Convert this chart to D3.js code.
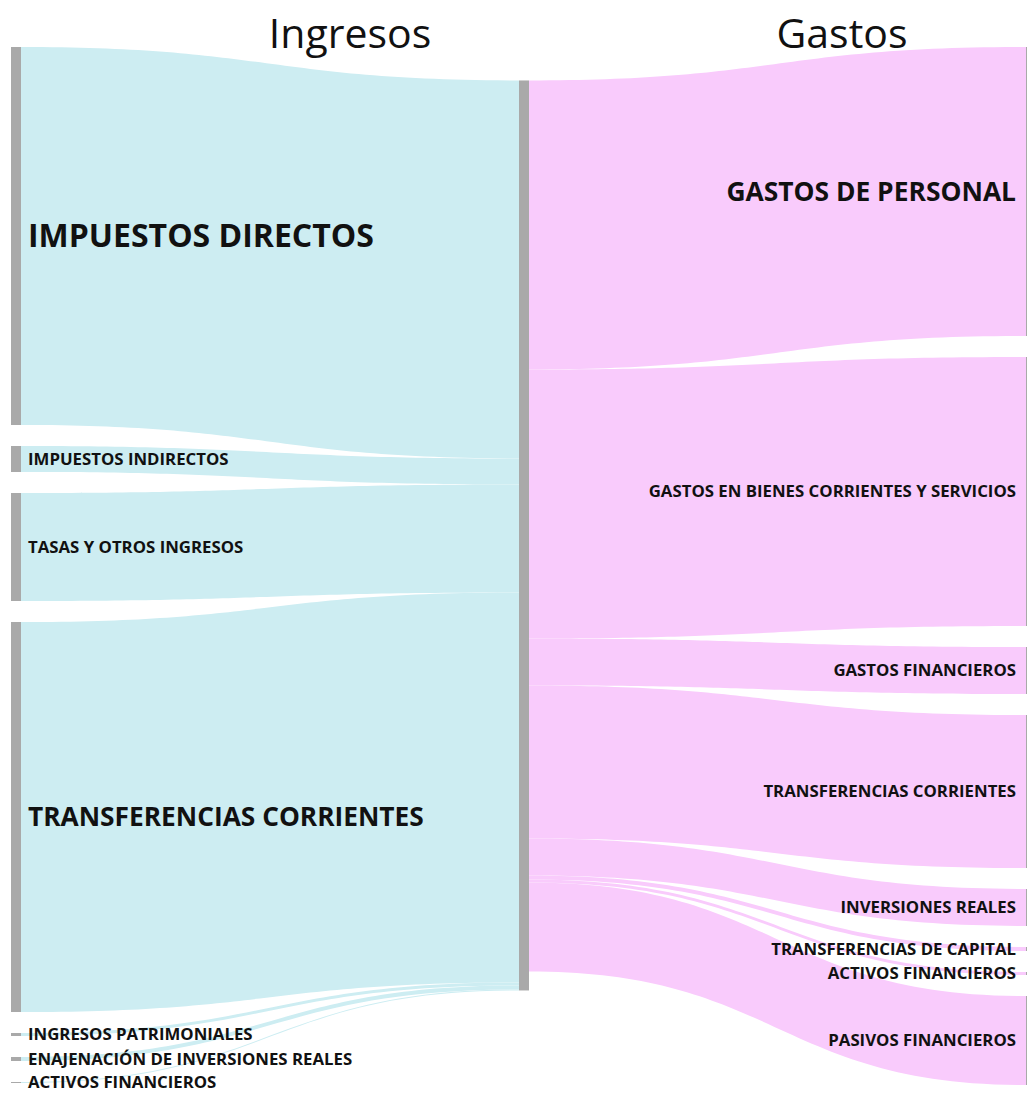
<!DOCTYPE html>
<html><head><meta charset="utf-8">
<script src="https://cdn.jsdelivr.net/npm/d3@7"></script>
<style>
body{margin:0;background:#fff;}
svg{display:block;}
text{font-family:"Open Sans",sans-serif;}
</style>
</head><body>
<svg id="chart" width="1027" height="1093"></svg>
<script>
// ---- data ----
const incomeCategories = ["IMPUESTOS DIRECTOS","IMPUESTOS INDIRECTOS","TASAS Y OTROS INGRESOS","TRANSFERENCIAS CORRIENTES","INGRESOS PATRIMONIALES","ENAJENACIÓN DE INVERSIONES REALES","ACTIVOS FINANCIEROS"];
const incomeValues = [37.8, 2.6, 10.8, 39.0, 0.3, 0.4, 0.1];
const expenseCategories = ["GASTOS DE PERSONAL","GASTOS EN BIENES CORRIENTES Y SERVICIOS","GASTOS FINANCIEROS","TRANSFERENCIAS CORRIENTES","INVERSIONES REALES","TRANSFERENCIAS DE CAPITAL","ACTIVOS FINANCIEROS","PASIVOS FINANCIEROS"];
const expenseValues = [28.9, 26.9, 4.7, 15.3, 3.7, 0.4, 0.3, 8.9];
const columnTitles = ["Ingresos","Gastos"];

// ---- layout / style ----
const W = 1027, H = 1093;
const top0 = 47, bottom0 = 1085, pad = 21, nodeW = 10;
const xLeft = 11, xMid = 519, xRight = 1026;
const blue = "#cdedf2", pink = "#f9cbfc", nodeGray = "#a9a9a9";
const smallLabelSize = 16.8;
const bigLabelSize = {"IMPUESTOS DIRECTOS": 32, "TRANSFERENCIAS CORRIENTES": 26.3, "GASTOS DE PERSONAL": 26.4};

const sumIn = d3.sum(incomeValues), sumOut = d3.sum(expenseValues);
const ky = Math.min(
  (bottom0 - top0 - (incomeValues.length - 1) * pad) / sumIn,
  (bottom0 - top0 - (expenseValues.length - 1) * pad) / sumOut);
const h = d3.scaleLinear().domain([0, 1]).range([0, ky]);

function stack(names, values) {
  let y = top0;
  return names.map((name, i) => {
    const n = {name, value: values[i], y0: y, y1: y + h(values[i])};
    y = n.y1 + pad;
    return n;
  });
}
const leftNodes = stack(incomeCategories, incomeValues);
const rightNodes = stack(expenseCategories, expenseValues);
const midCenter = d3.sum(leftNodes, n => n.value * (n.y0 + n.y1) / 2) / sumIn;
const midH = h(Math.max(sumIn, sumOut));
const mid = {y0: midCenter - midH / 2, y1: midCenter + midH / 2};

function band(xa, a0, a1, xb, b0, b1) {
  const xm = (xa + xb) / 2, p = d3.path();
  p.moveTo(xa, a0);
  p.bezierCurveTo(xm, a0, xm, b0, xb, b0);
  p.lineTo(xb, b1);
  p.bezierCurveTo(xm, b1, xm, a1, xa, a1);
  p.closePath();
  return p.toString();
}

const svg = d3.select("#chart");

// links
let acc = mid.y0;
const inLinks = leftNodes.map(n => {
  const t0 = acc; acc += h(n.value);
  return band(xLeft + nodeW, n.y0, n.y1, xMid, t0, acc);
});
let acc2 = mid.y0;
const outLinks = rightNodes.map(n => {
  const s0 = acc2; acc2 += h(n.value);
  return band(xMid + nodeW, s0, acc2, xRight, n.y0, n.y1);
});
svg.append("g").selectAll("path").data(inLinks).join("path").attr("d", d => d).attr("fill", blue);
svg.append("g").selectAll("path").data(outLinks).join("path").attr("d", d => d).attr("fill", pink);

// nodes
const allNodes = leftNodes.map(n => ({...n, x: xLeft})).concat([{...mid, x: xMid}], rightNodes.map(n => ({...n, x: xRight})));
svg.append("g").selectAll("rect").data(allNodes).join("rect")
  .attr("x", d => d.x).attr("y", d => d.y0).attr("width", nodeW)
  .attr("height", d => Math.max(1, d.y1 - d.y0)).attr("fill", nodeGray);

// labels
const fontSize = n => bigLabelSize[n.name] && n.value > 20 ? bigLabelSize[n.name] : smallLabelSize;
svg.append("g").selectAll("text").data(leftNodes).join("text")
  .attr("x", xLeft + nodeW + 7).attr("y", d => (d.y0 + d.y1) / 2).attr("dy", "0.35em")
  .attr("font-weight", 700).attr("font-size", fontSize).attr("fill", "#111")
  .text(d => d.name);
svg.append("g").selectAll("text").data(rightNodes).join("text")
  .attr("x", xRight - 10).attr("y", d => (d.y0 + d.y1) / 2).attr("dy", "0.35em")
  .attr("text-anchor", "end")
  .attr("font-weight", 700).attr("font-size", fontSize).attr("fill", "#111")
  .text(d => d.name);

// titles
svg.append("g").selectAll("text").data(columnTitles).join("text")
  .attr("x", (d, i) => i === 0 ? 350 : 842).attr("y", 48)
  .attr("text-anchor", "middle").attr("font-size", 41).attr("fill", "#111")
  .text(d => d);
</script>
</body></html>
